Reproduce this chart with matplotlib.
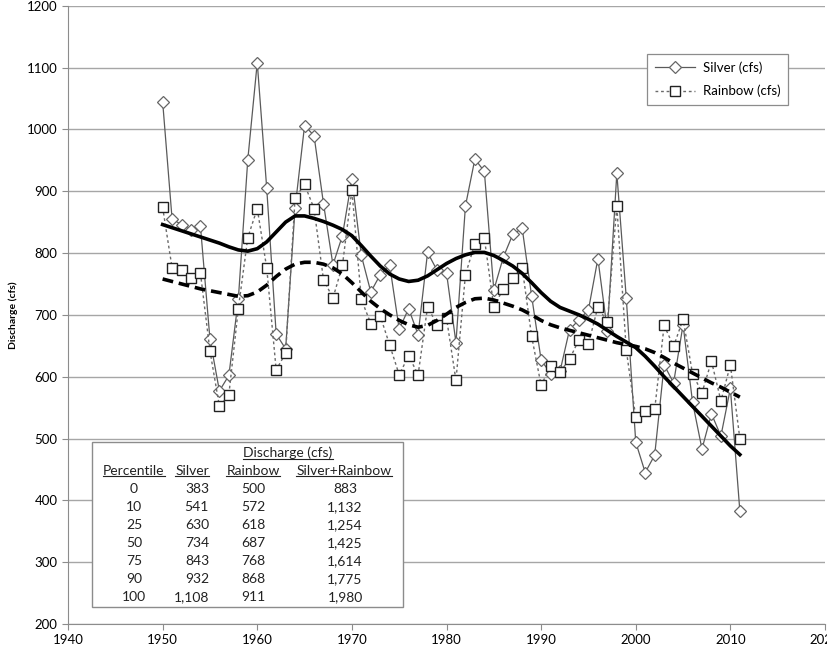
import numpy as np
import matplotlib
matplotlib.use('Agg')
import matplotlib.pyplot as plt
from matplotlib.lines import Line2D
from matplotlib.patches import Rectangle

plt.rcParams['font.family'] = ['Lato', 'DejaVu Sans']

# annual discharge (cfs)
years = list(range(1950, 2012))
silver = [1045, 855, 846, 837, 843, 661, 577, 602, 725, 951,
          1108, 905, 669, 645, 873, 1006, 990, 880, 781, 828,
          920, 796, 737, 765, 780, 677, 710, 668, 801, 772,
          768, 655, 876, 952, 932, 740, 793, 830, 840, 730,
          627, 605, 609, 676, 692, 708, 791, 674, 929, 727,
          494, 445, 473, 619, 590, 684, 559, 483, 540, 504,
          581, 383]
rainbow = [874, 776, 773, 759, 767, 642, 552, 571, 710, 825,
           872, 776, 611, 638, 889, 911, 872, 757, 727, 780,
           902, 725, 686, 698, 651, 603, 634, 603, 713, 684,
           695, 594, 765, 815, 824, 713, 742, 759, 776, 665,
           586, 617, 608, 628, 660, 653, 713, 688, 876, 643,
           534, 545, 547, 683, 649, 693, 605, 574, 625, 561,
           619, 500]

# smoothed trend lines (one value per year)
silver_smooth = [846, 841, 836, 831, 826, 821, 816, 810, 805, 803,
                 807, 818, 834, 850, 860, 860, 856, 851, 845, 838,
                 828, 812, 795, 779, 766, 758, 754, 756, 763, 773,
                 783, 791, 797, 801, 801, 796, 788, 779, 767, 752,
                 736, 722, 712, 706, 700, 693, 685, 675, 665, 656,
                 647, 633, 617, 600, 584, 568, 552, 536, 520, 504,
                 488, 474]
rainbow_smooth = [758, 754, 750, 746, 742, 739, 736, 733, 730, 731,
                  737, 748, 762, 774, 782, 785, 785, 782, 776, 766,
                  752, 737, 722, 710, 700, 691, 684, 680, 683, 691,
                  701, 712, 720, 726, 727, 724, 719, 714, 708, 700,
                  691, 684, 679, 675, 671, 667, 663, 659, 655, 652,
                  649, 645, 639, 631, 622, 614, 606, 598, 590, 583,
                  575, 567]

# percentile table
tbl_pct = ['0', '10', '25', '50', '75', '90', '100']
tbl_silver = ['383', '541', '630', '734', '843', '932', '1,108']
tbl_rainbow = ['500', '572', '618', '687', '768', '868', '911']
tbl_sum = ['883', '1,132', '1,254', '1,425', '1,614', '1,775', '1,980']

W, H = 827, 652
fig = plt.figure(figsize=(W / 100, H / 100), dpi=100)
ax = fig.add_axes([68 / W, 1 - 624 / H, (825 - 68) / W, (624 - 5.7) / H])

ax.plot(years, silver, color='#5a5a5a', lw=0.9, marker='D', ms=6.3,
        mfc='white', mec='#666666', mew=0.9, label='Silver (cfs)', zorder=3)
ax.plot(years, rainbow, color='#6a6a6a', lw=1.0, ls=(0, (2, 2)), marker='s', ms=7.6,
        mfc='white', mec='#222222', mew=1.0, label='Rainbow (cfs)', zorder=4)
ax.plot(years, silver_smooth, color='black', lw=2.6, zorder=5)
ax.plot(years, rainbow_smooth, color='black', lw=2.6, ls=(0, (3, 1.6)), zorder=5)

ax.set_xlim(1940, 2020)
ax.set_ylim(200, 1200)
ax.set_xticks(range(1940, 2021, 10))
ax.set_yticks(range(200, 1201, 100))
ax.yaxis.grid(True, color='#a6a6a6', lw=1.0)
ax.set_axisbelow(True)
for s in ['top', 'right']:
    ax.spines[s].set_visible(False)
for s in ['left', 'bottom']:
    ax.spines[s].set_color('#8c8c8c')
ax.tick_params(colors='#8c8c8c', labelcolor='black', labelsize=9.5, length=4)
ax.set_ylabel('Discharge (cfs)', fontsize=7.5, fontweight='bold', labelpad=6)

leg = ax.legend(loc='upper right', bbox_to_anchor=(795 / W, 1 - 47 / H),
                bbox_transform=fig.transFigure, fontsize=9.5, handlelength=3.0,
                handletextpad=0.6, fancybox=False, edgecolor='#8c8c8c', framealpha=1,
                borderpad=0.6, labelspacing=0.8)
leg.get_frame().set_linewidth(0.9)

# percentile table box
fig.patches.append(Rectangle((92 / W, 1 - 607 / H), (403 - 92) / W, (607 - 442) / H,
                             transform=fig.transFigure, facecolor='white',
                             edgecolor='#8c8c8c', lw=1.0, zorder=10))


def ftext(x, y, s, ha='center'):
    return fig.text(x / W, 1 - y / H, s, ha=ha, va='center', fontsize=10,
                    color='#222222', zorder=11)


under = [ftext(288, 453, 'Discharge (cfs)')]
under.append(ftext(134, 471, 'Percentile'))
under.append(ftext(192, 471, 'Silver'))
under.append(ftext(253, 471, 'Rainbow'))
under.append(ftext(344, 471, 'Silver+Rainbow'))
row_y = [489, 507, 525, 543, 561, 579, 597]
for i, y in enumerate(row_y):
    ftext(134, y, tbl_pct[i])
    ftext(209, y, tbl_silver[i], ha='right')
    ftext(241, y, tbl_rainbow[i], ha='left')
    ftext(345, y, tbl_sum[i])

fig.canvas.draw()
r = fig.canvas.get_renderer()
for t in under:
    bb = t.get_window_extent(r).transformed(fig.transFigure.inverted())
    fig.add_artist(Line2D([bb.x0, bb.x1], [bb.y0 + 0.001, bb.y0 + 0.001],
                          transform=fig.transFigure, color='#222222', lw=0.8, zorder=11))

fig.savefig('out.png', dpi=100)
